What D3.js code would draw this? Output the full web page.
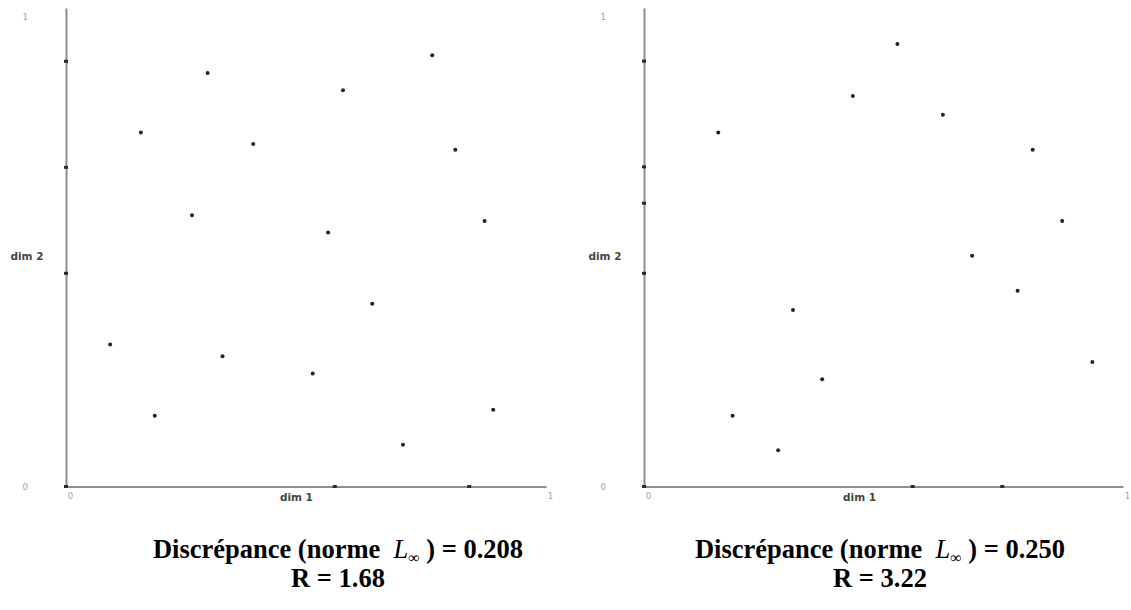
<!DOCTYPE html>
<html>
<head>
<meta charset="utf-8">
<script src="https://cdn.jsdelivr.net/npm/d3@7"></script>
<style>
  html, body { margin: 0; padding: 0; background: #fff; }
  svg { display: block; }
  text { white-space: pre; }
</style>
</head>
<body>
<script>
// ---- Data (unit square coordinates) ----
const panelNames = ["left", "right"];
const discrepancies = ["0.208", "0.250"];
const rValues = ["1.68", "3.22"];
const tickLabels = ["0", "1"];

const leftPointsX = [0.295, 0.763, 0.577, 0.156, 0.390, 0.811, 0.2625, 0.546, 0.872, 0.638, 0.092, 0.326, 0.514, 0.185, 0.890, 0.702];
const leftPointsY = [0.864, 0.901, 0.828, 0.740, 0.716, 0.704, 0.567, 0.531, 0.555, 0.382, 0.297, 0.272, 0.236, 0.148, 0.1605, 0.087];
const leftAxisMarksX = [0, 0, 0, 0, 0.560, 0.840];
const leftAxisMarksY = [0.8886, 0.667, 0.4456, 0, 0, 0];

const rightPointsX = [0.529, 0.436, 0.624, 0.155, 0.8115, 0.873, 0.685, 0.780, 0.311, 0.936, 0.372, 0.185, 0.280];
const rightPointsY = [0.925, 0.816, 0.777, 0.740, 0.704, 0.555, 0.482, 0.409, 0.369, 0.260, 0.224, 0.148, 0.0757];
const rightAxisMarksX = [0, 0, 0, 0, 0, 0.561, 0.748];
const rightAxisMarksY = [0.889, 0.668, 0.592, 0.4455, 0, 0, 0];

const panels = [
  { px: leftPointsX, py: leftPointsY, ax: leftAxisMarksX, ay: leftAxisMarksY, x0: 66, x1: 546, dimX: 0.48, capX: 338 },
  { px: rightPointsX, py: rightPointsY, ax: rightAxisMarksX, ay: rightAxisMarksY, x0: 644, x1: 1123, dimX: 0.45, capX: 880 }
];

const W = 1131, H = 610;
const svg = d3.select("body").append("svg").attr("width", W).attr("height", H);
svg.append("rect").attr("width", W).attr("height", H).attr("fill", "#fff");

const yTop = 8, yBot = 486.5;

panels.forEach((p, i) => {
  const x = d3.scaleLinear().domain([0, 1]).range([p.x0, p.x1]);
  const y = d3.scaleLinear().domain([0, 1]).range([yBot, yTop]);
  const g = svg.append("g");

  // bottom axis
  const gx = g.append("g").attr("transform", `translate(0,${yBot})`)
    .call(d3.axisBottom(x).tickValues([0, 1]).tickFormat((d, k) => tickLabels[k]).tickSize(0).tickPadding(6));
  // left axis
  const gy = g.append("g").attr("transform", `translate(${p.x0},0)`)
    .call(d3.axisLeft(y).tickValues([0, 1]).tickFormat((d, k) => tickLabels[k]).tickSize(0).tickPadding(38));

  [gx, gy].forEach(a => {
    a.select(".domain").attr("stroke", "#8e8e8e").attr("stroke-width", 2);
    a.selectAll(".tick text")
      .attr("font-family", "DejaVu Sans, sans-serif")
      .attr("font-size", 8.5)
      .attr("fill", "#a397c2");
  });
  gx.selectAll(".tick text").attr("dx", 4);
  gy.selectAll(".tick").filter(d => d === 1).select("text").attr("dy", "1.4em").attr("fill", "#8aa2c8");

  // axis labels
  g.append("text")
    .attr("x", x(p.dimX)).attr("y", yBot + 14.5)
    .attr("text-anchor", "middle")
    .attr("font-family", "DejaVu Sans, sans-serif").attr("font-weight", "bold").attr("font-size", 10.5)
    .attr("fill", "#3f4b36")
    .text("dim 1");
  g.append("text")
    .attr("x", p.x0 - 39).attr("y", y(0.48) + 3.5)
    .attr("text-anchor", "middle")
    .attr("font-family", "DejaVu Sans, sans-serif").attr("font-weight", "bold").attr("font-size", 10.5)
    .attr("fill", "#3f4b36")
    .text("dim 2");

  // points on axes
  g.selectAll(".amark").data(p.ax.map((v, k) => [v, p.ay[k]])).enter()
    .append("rect").attr("class", "amark")
    .attr("x", d => x(d[0]) - 2).attr("y", d => y(d[1]) - 1.5)
    .attr("width", 4).attr("height", 3).attr("fill", "#2a2a2a");

  // points
  g.selectAll(".pt").data(p.px.map((v, k) => [v, p.py[k]])).enter()
    .append("circle").attr("class", "pt")
    .attr("cx", d => x(d[0])).attr("cy", d => y(d[1])).attr("r", 2).attr("fill", "#222");

  // caption
  const cap = svg.append("text")
    .attr("x", p.capX).attr("y", 558)
    .attr("text-anchor", "middle")
    .attr("font-family", "Liberation Serif, Times New Roman, serif")
    .attr("font-size", 26.5).attr("fill", "#000");
  cap.append("tspan").attr("font-weight", "bold").text("Discrépance (norme  ");
  cap.append("tspan").attr("font-style", "italic").text("L");
  cap.append("tspan").attr("font-size", 16).attr("dy", 5).text("∞");
  cap.append("tspan").attr("font-weight", "bold").attr("dy", -5).text(" ) = " + discrepancies[i]);

  svg.append("text")
    .attr("x", p.capX).attr("y", 587)
    .attr("text-anchor", "middle")
    .attr("font-family", "Liberation Serif, Times New Roman, serif")
    .attr("font-weight", "bold").attr("font-size", 26.5).attr("fill", "#000")
    .text("R = " + rValues[i]);
});
</script>
</body>
</html>
